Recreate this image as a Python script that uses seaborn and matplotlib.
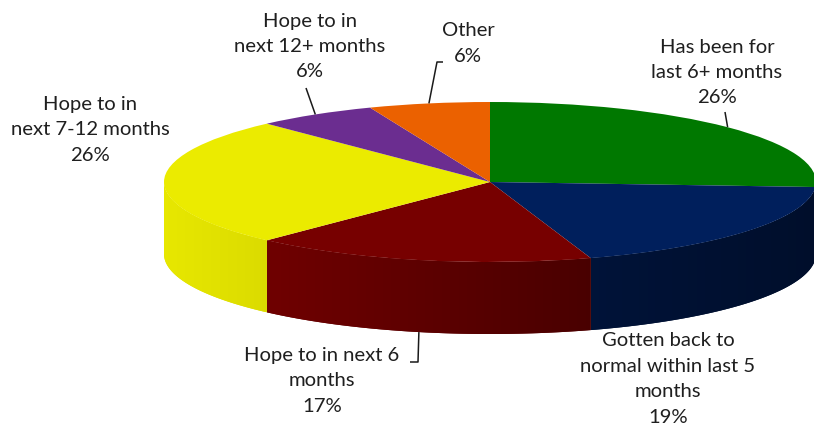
import numpy as np
import matplotlib
matplotlib.use("Agg")
import matplotlib.pyplot as plt
from matplotlib.patches import Polygon
from matplotlib.colors import to_rgb
import seaborn as sns

# Survey answers and their shares (percent)
categories = [
    "Has been for last 6+ months",
    "Gotten back to normal within last 5 months",
    "Hope to in next 6 months",
    "Hope to in next 7-12 months",
    "Hope to in next 12+ months",
    "Other",
]
shares = [26, 19, 17, 26, 6, 6]
label_lines = [
    "Has been for\nlast 6+ months",
    "Gotten back to\nnormal within last 5\nmonths",
    "Hope to in next 6\nmonths",
    "Hope to in\nnext 7-12 months",
    "Hope to in\nnext 12+ months",
    "Other",
]
slice_colors = ["#007800", "#001F5C", "#770000", "#EBEB00", "#6B2D90", "#EB6100"]

sns.set_theme(style="white")
plt.rcParams["font.family"] = ["Lato", "DejaVu Sans"]

W, H = 814, 426
CX, CY = 490, 182          # centre of the top face (pixels)
RX, RY = 326, 80           # semi-axes of the top face (pixels)
DEPTH = 72                 # thickness of the disc (pixels)


def to_data(x, y):
    return (x - CX) / RX, (CY - y) / RY


fig = plt.figure(figsize=(W / 100, H / 100), dpi=100)
ax = fig.add_axes([0, 0, 1, 1])

# top face: a unit pie stretched into an ellipse by the axis scaling
wedges, _ = ax.pie(shares, colors=slice_colors, startangle=90, counterclock=False,
                   radius=1, wedgeprops=dict(linewidth=0, antialiased=True))
for w in wedges:
    w.set_zorder(3)

# side wall of the disc, shaded by facing direction
depth = DEPTH / RY
frac = np.array(shares, dtype=float) / sum(shares)
cum = np.concatenate([[0], np.cumsum(frac)])


def shade_factor(c):
    return np.interp(c, [-1.0, -0.66, 0.3, 1.0], [0.985, 0.93, 0.62, 0.47])


for i, col in enumerate(slice_colors):
    t_hi = 90 - 360 * cum[i]
    t_lo = 90 - 360 * cum[i + 1]
    lo, hi = max(t_lo, -180), min(t_hi, 0)
    if lo >= hi:
        continue
    th = np.radians(np.linspace(lo, hi, 200))
    top = np.column_stack([np.cos(th), np.sin(th)])
    bot = np.column_stack([np.cos(th[::-1]), np.sin(th[::-1]) - depth])
    outline = np.vstack([top, bot])
    rgb = np.array(to_rgb(col))
    x0, x1 = outline[:, 0].min(), outline[:, 0].max()
    y0, y1 = outline[:, 1].min(), outline[:, 1].max()
    xs = np.linspace(x0, x1, 400)
    grad = np.clip(rgb[None, :] * shade_factor(xs)[:, None], 0, 1)[None, :, :]
    patch = Polygon(outline, closed=True, facecolor=tuple(rgb * shade_factor(xs.mean())),
                    edgecolor="none", zorder=2)
    ax.add_patch(patch)
    im = ax.imshow(grad, extent=(x0, x1, y0, y1), origin="lower", aspect="auto",
                   interpolation="bilinear", zorder=2.1)
    im.set_clip_path(patch)

ax.set_aspect("auto")
ax.set_xlim(to_data(0, 0)[0], to_data(W, 0)[0])
ax.set_ylim(to_data(0, H)[1], to_data(0, 0)[1])
ax.axis("off")

# data labels: text block centre (pixels) and leader-line end near the text
label_pos = [(717, 72.5), (668, 379), (322, 381), (90, 130), (310, 46.5), (468, 43.5)]
leader_text_end = [
    [(725, 112)],
    None,
    [(410, 362), (418, 362)],
    None,
    [(306, 88)],
    [(443, 62), (437, 62)],
]

text_color = "#1f1f1f"
for i, (txt, (lx, ly)) in enumerate(zip(label_lines, label_pos)):
    dx, dy = to_data(lx, ly)
    ax.text(dx, dy, f"{txt}\n{shares[i]}%", ha="center", va="center",
            fontsize=14.6, color=text_color, linespacing=1.6, zorder=5)
    pts = leader_text_end[i]
    if pts is None:
        continue
    mid = np.radians(90 - 360 * (cum[i] + cum[i + 1]) / 2)
    rx, ry = np.cos(mid), np.sin(mid)
    if ry < 0:
        ry -= depth
    xs = [to_data(*p)[0] for p in pts] + [rx]
    ys = [to_data(*p)[1] for p in pts] + [ry]
    ax.plot(xs, ys, color="#1a1a1a", lw=1.1, zorder=4, solid_capstyle="butt")

fig.savefig("out.png", dpi=100, facecolor="white")
